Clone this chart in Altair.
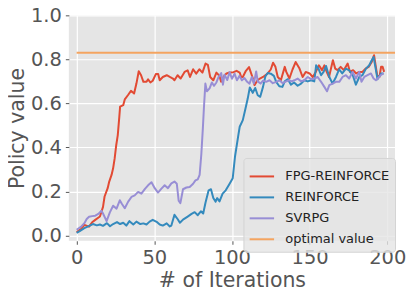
import altair as alt
import pandas as pd

# ---------------- data ----------------
fpg_x = [0, 3, 5, 8, 10, 12, 15, 17, 18, 20, 21, 22.5, 23.5, 24.5, 25.5, 26.5, 27.5, 28, 30, 31,
         33, 35, 37, 38.5, 40, 41.5, 43, 45, 46, 47.5, 49, 51, 52.5, 53.5, 55.5, 58, 60, 62, 63, 65,
         67, 69.5, 71.5, 73, 75, 77, 79, 81, 83, 84.5, 86, 88, 90, 92, 93, 95, 96.5, 98.5, 101, 103,
         105, 106, 107, 109, 111, 113.5, 114.5, 116.5, 118, 120, 123, 125, 126.5, 128, 129.5, 131.5,
         134, 135, 137, 139, 141, 143.5, 145.5, 147.5, 150, 152, 154, 156, 158, 159.5, 161, 162.5,
         165, 166.5, 168, 170, 172, 174.5, 176, 178, 180, 182, 184, 186, 188, 190, 191.5, 192.5,
         193.5, 195, 196, 197, 198]
fpg_y = [0.015, 0.03, 0.048, 0.04, 0.06, 0.071, 0.086, 0.13, 0.177, 0.215, 0.245, 0.275, 0.305, 0.35,
         0.41, 0.456, 0.54, 0.585, 0.592, 0.618, 0.637, 0.657, 0.645, 0.69, 0.746, 0.728, 0.698, 0.698,
         0.709, 0.695, 0.703, 0.733, 0.733, 0.705, 0.72, 0.728, 0.72, 0.713, 0.705, 0.728, 0.713, 0.743,
         0.75, 0.72, 0.755, 0.735, 0.755, 0.74, 0.781, 0.775, 0.72, 0.705, 0.74, 0.725, 0.698, 0.725,
         0.736, 0.74, 0.742, 0.748, 0.74, 0.72, 0.72, 0.748, 0.765, 0.713, 0.683, 0.705, 0.713, 0.72,
         0.736, 0.754, 0.785, 0.766, 0.72, 0.705, 0.766, 0.743, 0.713, 0.754, 0.788, 0.758, 0.72, 0.743,
         0.736, 0.72, 0.743, 0.773, 0.751, 0.773, 0.743, 0.72, 0.796, 0.758, 0.751, 0.766, 0.751, 0.781,
         0.743, 0.751, 0.736, 0.743, 0.743, 0.758, 0.766, 0.788, 0.819, 0.773, 0.728, 0.72, 0.766,
         0.766, 0.743]

rf_x = [0, 2, 5, 8.5, 10.5, 13, 15, 17, 19.5, 21.5, 23.5, 26, 28, 30, 32, 34, 36.5, 38.5, 41, 43,
        45, 47, 49, 51.5, 53.5, 55.5, 58, 60, 61, 63, 65, 66.5, 68.5, 71.5, 74, 76, 78, 80, 81.5, 83,
        85, 86.5, 88, 89.5, 90.5, 92, 94, 96, 98.5, 100.5, 102, 104, 105, 107, 108.5, 110.2, 111.5,
        113.4, 115, 116.6, 118.2, 120, 121.5, 123, 125, 127, 128.5, 130.5, 132.5, 134, 136, 138, 140,
        142.3, 144.5, 146.6, 148.8, 151, 153, 154.2, 155.7, 157.4, 159, 160.6, 162.7, 164.8, 167, 169,
        171, 173.4, 175.5, 177.7, 179.8, 182, 184, 186.3, 188.4, 190, 191.2, 192.7, 193.7, 196, 197.6]
rf_y = [0.012, 0.02, 0.033, 0.045, 0.052, 0.046, 0.05, 0.044, 0.056, 0.042, 0.052, 0.061, 0.052,
        0.058, 0.045, 0.065, 0.05, 0.063, 0.052, 0.055, 0.05, 0.063, 0.071, 0.062, 0.05, 0.045, 0.055,
        0.041, 0.045, 0.094, 0.075, 0.058, 0.072, 0.086, 0.098, 0.106, 0.092, 0.11, 0.1, 0.15, 0.205,
        0.21, 0.17, 0.154, 0.17, 0.155, 0.19, 0.205, 0.235, 0.26, 0.36, 0.45, 0.494, 0.524, 0.57,
        0.623, 0.672, 0.648, 0.67, 0.637, 0.63, 0.675, 0.722, 0.738, 0.735, 0.725, 0.698, 0.678, 0.675,
        0.7, 0.71, 0.685, 0.695, 0.68, 0.69, 0.705, 0.7, 0.705, 0.7, 0.773, 0.758, 0.728, 0.743, 0.77,
        0.72, 0.69, 0.72, 0.755, 0.736, 0.758, 0.75, 0.73, 0.685, 0.72, 0.728, 0.758, 0.773, 0.796,
        0.811, 0.751, 0.71, 0.736, 0.736]

sv_x = [0, 3, 5, 6.5, 8, 10, 12, 14, 16, 17, 19.3, 21.4, 23.5, 25.7, 27.8, 29, 31, 33.2, 35.3, 37.4,
        39.6, 41.7, 44, 46, 48.2, 50.3, 52.4, 54.6, 56.7, 58.8, 61, 63, 64.5, 65.7, 66.8, 68.5, 70.7,
        72.8, 75, 76.5, 78, 79.2, 80.3, 81.3, 82, 82.9, 83.9, 85.6, 87.1, 88.4, 90, 91.4, 93.1, 94.2,
        95.2, 97, 98.5, 100, 101.7, 103.2, 104.9, 106.4, 108.1, 109.8, 111.3, 112.8, 114.1, 115.6,
        116.6, 118.4, 120, 122, 124.2, 126.3, 128.5, 130.6, 132.7, 134.9, 137, 138.5, 140.2, 142.3,
        144.5, 146.6, 148.8, 151, 153, 155.2, 157.4, 159.5, 161.2, 162.7, 164.8, 167, 169.1, 171.2,
        173.4, 175.5, 177.7, 179.8, 182, 183.4, 185.2, 187.3, 189.5, 191.2, 192.7, 194.8, 196, 197.6]
sv_y = [0.026, 0.041, 0.056, 0.075, 0.085, 0.088, 0.09, 0.098, 0.112, 0.1, 0.065, 0.105, 0.135,
        0.122, 0.16, 0.145, 0.124, 0.154, 0.175, 0.182, 0.198, 0.19, 0.212, 0.228, 0.242, 0.215, 0.195,
        0.213, 0.228, 0.215, 0.237, 0.245, 0.235, 0.158, 0.147, 0.21, 0.218, 0.22, 0.235, 0.25, 0.255,
        0.275, 0.37, 0.49, 0.585, 0.69, 0.655, 0.668, 0.695, 0.68, 0.695, 0.72, 0.738, 0.685, 0.73,
        0.706, 0.742, 0.712, 0.735, 0.705, 0.725, 0.705, 0.715, 0.698, 0.69, 0.72, 0.69, 0.745, 0.7,
        0.69, 0.703, 0.698, 0.705, 0.692, 0.698, 0.705, 0.692, 0.7, 0.705, 0.7, 0.705, 0.713, 0.7,
        0.705, 0.72, 0.71, 0.713, 0.72, 0.698, 0.675, 0.655, 0.683, 0.69, 0.698, 0.698, 0.72, 0.728,
        0.713, 0.743, 0.713, 0.743, 0.698, 0.72, 0.728, 0.736, 0.713, 0.705, 0.72, 0.73, 0.736]

optimal_value = 0.83
optimal_x = [0, 210]

series_names = ["FPG-REINFORCE", "REINFORCE", "SVRPG", "optimal value"]
series_colors = ["#E24A33", "#348ABD", "#988ED5", "#F4A460"]
series_widths = [2, 2, 2, 1.8]
x_ticks = [0, 50, 100, 150, 200]
y_ticks = [0.0, 0.2, 0.4, 0.6, 0.8, 1.0]

# ---------------- build table ----------------
rows = []
for name, xs, ys in [
    ("FPG-REINFORCE", fpg_x, fpg_y),
    ("REINFORCE", rf_x, rf_y),
    ("SVRPG", sv_x, sv_y),
    ("optimal value", optimal_x, [optimal_value] * len(optimal_x)),
]:
    for xv, yv in zip(xs, ys):
        rows.append({"series": name, "iter": xv, "value": yv})
df = pd.DataFrame(rows)

FONT = "DejaVu Sans"

x_enc = alt.X("iter:Q",
              scale=alt.Scale(domain=[-5, 205], nice=False, zero=False),
              axis=alt.Axis(values=x_ticks, title="# of Iterations", format="d",
                            titleY=46, titleBaseline="alphabetic"))
y_enc = alt.Y("value:Q",
              scale=alt.Scale(domain=[-0.024, 1.0], nice=False, zero=False),
              axis=alt.Axis(values=y_ticks, title="Policy value", format=".1f",
                            titleX=-45, titleBaseline="alphabetic"))
color_enc = alt.Color(
    "series:N",
    scale=alt.Scale(domain=series_names, range=series_colors),
    legend=alt.Legend(
        title=None, orient="none", legendX=175, legendY=143,
        symbolType="stroke", symbolSize=600, symbolStrokeWidth=2,
        labelFontSize=13, labelFont=FONT, labelColor="#222222", labelOffset=10,
        padding=5, rowPadding=-6, labelLimit=300,
        fillColor="rgba(229,229,229,0.8)", strokeColor="#D4D4D4", cornerRadius=3,
    ),
)

layers = []
for name, w in zip(series_names, series_widths):
    layers.append(
        alt.Chart(df)
        .transform_filter(alt.datum.series == name)
        .mark_line(strokeWidth=w, clip=True, strokeJoin="round")
        .encode(x=x_enc, y=y_enc, color=color_enc)
    )

chart = (
    alt.layer(*layers)
    .properties(width=327, height=226, autosize=alt.AutoSizeParams(type="none"),
                padding={"left": 61, "top": 7, "right": 12, "bottom": 50})
    .configure_view(fill="#E5E5E5", stroke=None)
    .configure_axis(
        grid=True, gridColor="#FFFFFF", gridWidth=1.2, domain=False,
        tickColor="#555555", tickSize=3.5, tickWidth=1,
        labelColor="#555555", labelFontSize=19.5, labelFont=FONT, labelPadding=4,
        titleColor="#555555", titleFontSize=20.5, titleFont=FONT, titleFontWeight="normal",
    )
)

chart.save("out.html", embed_options={"renderer": "svg", "actions": False})
